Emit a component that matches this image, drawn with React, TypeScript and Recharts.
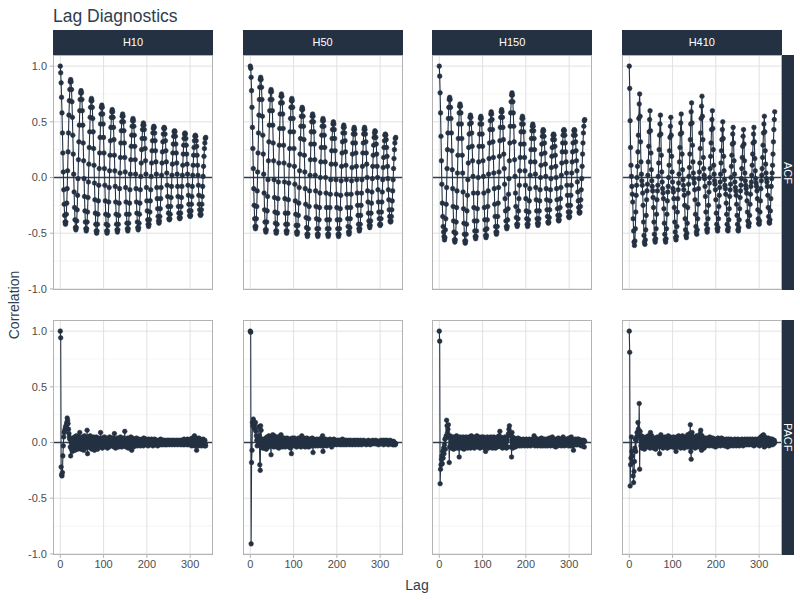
import { LineChart, Line, XAxis, YAxis, ReferenceLine } from 'recharts';

// hourly series shown in the four columns
const seriesNames = ['H10', 'H50', 'H150', 'H410'];
const rowNames = ['ACF', 'PACF'];

// correlations in hundredths, lags 0..336 (one line = one 24h cycle for ACF)
const acfH10 = [
  100, 94, 85, 72, 58, 40, 22, 5, -11, -24, -34, -40, -42, -40, -33, -23, -10, 6, 23, 40, 56, 69, 79, 86,
  88, 86, 79, 68, 54, 38, 21, 3, -13, -27, -38, -45, -47, -45, -39, -29, -16, -1, 16, 32, 47, 60, 70, 76,
  78, 76, 70, 60, 47, 31, 15, -1, -17, -30, -40, -46, -48, -46, -40, -31, -18, -4, 12, 27, 41, 54, 63, 69,
  71, 69, 63, 53, 41, 26, 11, -5, -20, -32, -42, -48, -50, -48, -42, -33, -21, -7, 8, 22, 36, 48, 57, 63,
  65, 63, 57, 48, 36, 22, 8, -7, -21, -33, -42, -48, -50, -48, -43, -34, -22, -9, 6, 20, 33, 45, 54, 59,
  61, 59, 54, 45, 34, 20, 6, -8, -22, -33, -42, -47, -49, -47, -42, -34, -23, -10, 4, 18, 31, 42, 50, 55,
  57, 55, 50, 42, 31, 18, 5, -9, -22, -33, -41, -46, -48, -46, -41, -33, -23, -11, 3, 16, 28, 38, 46, 51,
  53, 51, 46, 38, 28, 16, 3, -10, -22, -32, -40, -45, -47, -45, -41, -33, -23, -11, 1, 13, 25, 35, 43, 47,
  49, 47, 43, 35, 26, 15, 3, -9, -21, -30, -38, -42, -44, -42, -38, -31, -21, -11, 1, 13, 24, 33, 40, 44,
  46, 45, 40, 33, 24, 14, 3, -9, -19, -28, -35, -39, -41, -39, -35, -28, -19, -9, 2, 13, 23, 32, 39, 44,
  45, 44, 39, 33, 24, 14, 4, -7, -17, -26, -32, -37, -38, -37, -33, -26, -18, -8, 2, 12, 22, 30, 37, 41,
  42, 41, 37, 30, 22, 13, 3, -8, -17, -26, -32, -36, -37, -36, -32, -26, -18, -8, 2, 11, 21, 29, 35, 39,
  40, 39, 35, 29, 21, 12, 3, -7, -16, -24, -30, -34, -35, -34, -30, -24, -17, -8, 2, 11, 20, 27, 33, 37,
  38, 37, 33, 28, 20, 11, 2, -7, -16, -24, -29, -33, -34, -33, -29, -24, -17, -8, 1, 10, 19, 26, 31, 35,
  36,
];

const acfH50 = [
  100, 98, 90, 78, 63, 45, 26, 8, -10, -25, -37, -44, -46, -44, -37, -26, -12, 5, 22, 40, 56, 70, 81, 88,
  90, 88, 81, 70, 55, 38, 21, 3, -14, -29, -40, -47, -49, -47, -40, -30, -17, -2, 15, 32, 47, 60, 70, 77,
  79, 77, 70, 60, 47, 31, 15, -2, -18, -31, -41, -48, -50, -48, -42, -32, -19, -4, 13, 29, 44, 57, 67, 73,
  75, 73, 67, 57, 44, 29, 13, -4, -19, -32, -42, -48, -50, -48, -42, -32, -20, -5, 11, 26, 41, 53, 63, 69,
  71, 69, 63, 53, 41, 26, 10, -6, -21, -33, -43, -49, -51, -49, -43, -34, -23, -9, 6, 21, 35, 46, 55, 61,
  63, 61, 55, 46, 34, 20, 5, -10, -24, -36, -45, -51, -53, -51, -46, -37, -26, -12, 2, 16, 30, 41, 50, 55,
  57, 55, 50, 41, 30, 16, 2, -12, -26, -37, -46, -51, -53, -51, -46, -38, -27, -14, 0, 14, 27, 38, 46, 51,
  53, 51, 46, 38, 27, 14, 0, -14, -27, -38, -46, -51, -53, -51, -46, -38, -27, -15, -2, 12, 24, 35, 43, 48,
  50, 48, 43, 35, 24, 12, -2, -15, -27, -38, -46, -51, -53, -51, -46, -38, -28, -16, -3, 10, 22, 32, 40, 45,
  47, 45, 40, 33, 23, 11, -2, -15, -27, -37, -44, -49, -51, -49, -45, -37, -27, -15, -3, 9, 21, 31, 39, 43,
  45, 43, 39, 31, 22, 10, -2, -14, -25, -34, -42, -46, -48, -46, -42, -34, -25, -14, -2, 10, 22, 31, 39, 43,
  45, 43, 39, 32, 22, 12, 0, -12, -22, -32, -39, -43, -45, -43, -39, -32, -23, -13, -1, 10, 20, 29, 36, 40,
  42, 41, 36, 30, 21, 10, 0, -11, -22, -31, -37, -42, -43, -42, -37, -31, -22, -13, -2, 9, 18, 27, 33, 38,
  39, 38, 34, 27, 19, 10, -1, -11, -20, -29, -35, -39, -40, -39, -35, -29, -21, -12, -2, 8, 17, 25, 31, 35,
  36,
];

const acfH150 = [
  100, 91, 76, 58, 37, 15, -6, -23, -35, -44, -49, -53, -56, -54, -47, -37, -24, -9, 8, 25, 40, 53, 63, 70,
  72, 70, 63, 53, 40, 24, 7, -10, -26, -39, -49, -56, -58, -56, -50, -40, -27, -12, 4, 20, 35, 48, 58, 64,
  66, 64, 58, 48, 35, 20, 4, -13, -28, -41, -51, -57, -59, -57, -51, -42, -30, -16, -2, 13, 27, 39, 48, 54,
  56, 54, 49, 40, 28, 15, 1, -14, -27, -39, -48, -53, -55, -53, -48, -39, -28, -14, 0, 14, 28, 39, 48, 53,
  55, 53, 48, 39, 28, 15, 1, -14, -27, -38, -47, -52, -54, -52, -46, -38, -26, -12, 3, 17, 31, 43, 51, 57,
  59, 57, 52, 43, 32, 18, 4, -10, -24, -35, -44, -49, -51, -49, -44, -35, -23, -9, 5, 19, 33, 45, 54, 59,
  61, 59, 54, 45, 34, 21, 8, -6, -19, -30, -39, -44, -46, -44, -38, -28, -15, -1, 15, 31, 46, 58, 68, 74,
  76, 74, 68, 58, 46, 32, 16, 1, -14, -26, -36, -42, -44, -42, -37, -30, -19, -7, 6, 18, 30, 41, 48, 53,
  55, 53, 48, 41, 30, 18, 6, -7, -19, -30, -37, -42, -44, -42, -38, -31, -21, -10, 2, 14, 25, 35, 42, 46,
  48, 46, 42, 35, 25, 14, 3, -9, -20, -30, -37, -41, -43, -41, -37, -30, -21, -11, 0, 11, 21, 30, 37, 41,
  43, 42, 37, 31, 22, 12, 1, -10, -20, -29, -35, -40, -41, -40, -36, -29, -21, -11, -1, 9, 19, 27, 34, 38,
  39, 38, 34, 28, 20, 10, 0, -10, -20, -28, -34, -38, -39, -38, -34, -27, -19, -9, 2, 13, 23, 31, 38, 42,
  43, 42, 38, 31, 23, 14, 4, -7, -16, -25, -31, -35, -36, -35, -31, -25, -16, -7, 4, 14, 23, 31, 38, 42,
  43, 42, 38, 32, 24, 15, 6, -4, -13, -21, -27, -31, -32, -31, -26, -20, -11, -1, 10, 21, 31, 40, 46, 51,
  52,
];

const acfH410 = [
  100, 80, 51, 27, 11, 1, -8, -15, -22, -37, -48, -58, -61, -57, -46, -31, -16, -7, 0, 10, 23, 38, 53, 66,
  75, 55, 32, 14, 3, -3, -7, -14, -25, -40, -52, -58, -60, -56, -47, -34, -20, -12, -6, 2, 14, 28, 41, 52,
  60, 42, 22, 7, -3, -8, -12, -18, -27, -40, -51, -56, -58, -55, -46, -33, -20, -12, -7, 1, 13, 25, 38, 48,
  56, 39, 20, 5, -4, -10, -14, -19, -28, -41, -51, -56, -58, -55, -46, -33, -21, -13, -8, 0, 11, 24, 36, 46,
  54, 38, 19, 5, -4, -10, -13, -19, -27, -40, -49, -54, -56, -53, -44, -31, -19, -11, -5, 3, 14, 27, 39, 49,
  57, 40, 21, 7, -2, -7, -11, -16, -25, -37, -47, -52, -54, -50, -41, -27, -14, -6, 1, 9, 21, 34, 48, 59,
  67, 49, 29, 14, 4, -1, -5, -11, -20, -33, -44, -49, -51, -47, -37, -24, -10, -1, 5, 13, 26, 40, 53, 64,
  73, 55, 34, 18, 8, 2, -1, -8, -17, -31, -42, -47, -49, -46, -37, -25, -13, -5, 0, 8, 19, 31, 43, 52,
  60, 44, 25, 11, 3, -3, -6, -11, -20, -32, -42, -46, -48, -45, -37, -26, -16, -9, -4, 3, 13, 24, 34, 43,
  50, 35, 19, 6, -2, -7, -10, -15, -23, -33, -42, -47, -48, -45, -38, -28, -17, -11, -6, 0, 10, 20, 30, 39,
  45, 31, 15, 3, -4, -9, -12, -16, -24, -34, -42, -47, -48, -45, -38, -28, -18, -12, -7, -1, 8, 18, 28, 37,
  43, 30, 15, 4, -3, -7, -10, -14, -21, -31, -39, -43, -44, -41, -34, -24, -15, -8, -4, 2, 11, 21, 31, 39,
  45, 32, 17, 6, -1, -5, -8, -12, -19, -29, -37, -41, -42, -39, -31, -21, -10, -3, 2, 8, 18, 29, 40, 48,
  55, 41, 24, 12, 4, -1, -4, -8, -16, -27, -35, -40, -41, -38, -30, -19, -8, -1, 4, 11, 21, 32, 43, 52,
  59,
];

const pacfH10 = [
  100, 94, -22, -29, -30, -27, -12, -3, 5, 9,
  10, 12, 14, 13, 16, 18, 22, 20, 17, 12,
  8, 5, 3, -4, -12, 0, -6, 3, -8, 2,
  -5, 4, -3, 5, -7, 1, -4, 6, -2, 3,
  -6, 2, 5, -3, 4, 9, -5, 1, -6, 3,
  -2, 5, -4, 2, -7, 3, 6, -1, -5, 2,
  4, -3, 11, -10, 2, 5, -4, 3, -2, 6,
  -5, 1, 4, -6, 3, -2, 5, -3, 2, -7,
  4, 1, -3, 5, -2, 3, -6, 2, 4, -1,
  -4, 3, -2, 9, -3, 1, 4, -5, 2, -2,
  3, -4, 5, -1, 2, -3, 4, -2, 1, -5,
  3, 2, -4, 1, 5, -2, -3, 4, -1, 2,
  -3, 4, -2, 1, -4, 8, -1, 3, -5, 2,
  1, -3, 4, -2, 3, -4, 2, 1, -3, 5,
  -2, 3, -4, 1, 2, -3, 4, -1, -2, 10,
  -3, 2, -4, 3, 1, -2, 4, -5, 2, -1,
  3, -4, 2, 5, -3, -7, 4, -2, 3, -4,
  2, -1, 3, -3, 2, -2, 4, -1, -3, 2,
  1, -2, 3, -1, 2, -3, 1, 2, -2, 3,
  -1, 2, -3, 4, -1, 2, -2, 1, 3, -2,
  1, -1, 2, -3, 3, -1, 1, -2, 2, 0,
  -2, 3, -1, 2, -3, 1, 2, -1, 3, -2,
  1, -2, 2, -1, 1, -3, 2, 0, -1, 2,
  -2, 1, 3, -1, -2, 2, -1, 1, -2, 2,
  0, -1, 2, -2, 1, 1, -2, 2, -1, 0,
  2, -1, -2, 1, 2, -1, 0, 1, -2, 2,
  -1, 1, -1, 2, -2, 1, 0, -1, 2, -1,
  1, -2, 2, -1, 1, 0, -1, 2, -2, 1,
  2, -1, 1, -2, 2, -1, 3, -2, 1, -1,
  2, -1, 1, -2, 3, -1, 2, -2, 1, 2,
  -2, 3, -1, 2, -3, 4, -2, 1, 3, -2,
  6, -3, 2, 4, -2, -7, 3, -1, 2, -3,
  4, -2, 1, 3, -2, 2, -3, 1, 2, -1,
  3, -2, 1, -3, 2, -1, -3,
];

const pacfH50 = [
  100, 99, -91, -18, -7, 18, 15, 21, 19, 13,
  16, 12, 18, 10, 6, 2, -3, 4, 1, -2,
  14, 6, -20, -25, 15, 11, -4, -1, 3, -5,
  -4, 2, -5, 3, 1, -3, 4, -6, 2, 5,
  -2, 3, -4, 6, 2, -1, 5, -3, -11, 4,
  3, -2, 7, 4, -4, 6, 2, -3, 5, -1,
  3, -4, 2, 5, -2, 1, -5, 3, 4, -2,
  6, 7, -3, 2, -4, 3, 1, -2, 4, -3,
  2, -4, 3, 1, -2, 4, -3, 2, -1, 3,
  -4, 2, 3, -5, 1, -10, 2, 4, -3, 1,
  3, -2, 4, -1, -3, 2, 1, -4, 3, -2,
  2, -3, 4, -1, 2, -2, 3, -4, 1, 6,
  -2, 3, 1, -3, 4, -1, 2, -4, 1, 3,
  -2, 4, -3, 1, 2, -4, 3, -1, 2, -2,
  3, -3, 1, 4, -2, -9, 2, 3, -1, 2,
  -3, 1, 2, -2, 3, -1, -3, 2, 1, -2,
  3, -1, 2, -3, 1, 4, -2, 6, -8, 2,
  -3, 1, 2, -2, 3, -1, 1, -3, 2, -1,
  2, -1, 1, -2, 3, -1, 2, -2, -4, 1,
  2, -1, 1, 3, -2, 1, -1, 2, -1, 1,
  -2, 2, -1, 1, 2, -1, 1, -2, 2, 0,
  -1, 2, -2, 3, -1, 1, 0, -2, 2, -1,
  1, -1, 2, -2, 1, 0, -1, 2, -1, 1,
  -2, 1, 2, -1, 0, 1, -2, 1, -1, 2,
  -1, 1, 0, -2, 2, -1, 1, 0, -1, 2,
  -2, 1, 1, -1, 0, 2, -1, -2, 1, 0,
  1, -1, 2, -1, 0, 1, -1, 1, -2, 1,
  0, 1, -1, 2, -1, 0, 1, -2, 1, -1,
  1, 0, -1, 2, -1, 1, 0, -1, 1, -1,
  2, -1, 0, 1, -1, 1, -2, 1, 0, -1,
  1, -1, 2, -1, 0, 1, -1, 2, -2, 1,
  0, -1, 2, 1, -1, 0, 2, -1, 1, -2,
  1, 0, -1, 2, -1, 1, -1, 0, 1, -2,
  -1, 1, -2, 0, -1, -2, -1,
];

const pacfH150 = [
  100, 91, -37, -24, -20, -15, -12, -19, -8, -14,
  -5, -10, -2, 3, -6, 4, 6, 20, 15, 9,
  12, 16, 5, -18, -4, 6, -3, 4, -5, 2,
  5, -4, 3, -6, 2, 5, -3, 4, -5, 3,
  6, -4, 2, -5, 4, -2, -13, 3, 5, -4,
  2, -5, 4, 3, -3, 5, -2, -6, 3, 4,
  -4, 2, 5, -3, 4, -5, 1, 3, -4, 5,
  -2, 4, -5, 3, 6, -3, 2, -4, 5, -1,
  3, -5, 4, -2, 5, -3, 1, 6, -4, 2,
  -3, 5, -2, 4, -5, 3, 1, -4, 5, -3,
  2, -4, 5, -2, 3, -5, 4, -8, 2, 3,
  -4, 5, -2, 3, -5, 4, -1, 2, -4, 5,
  -3, 2, 4, -5, 3, -2, 5, -4, 1, 3,
  -5, 4, -2, 3, -4, 5, -1, -3, 6, 4,
  10, -3, 5, -4, 2, 3, -5, 4, -2, 3,
  -4, 2, 5, -3, 4, -5, 3, 2, -4, 6,
  8, 12, 15, 9, 7, -4, 6, -13, 9, 5,
  -5, 3, -3, 4, -2, 1, -4, 3, 2, -3,
  2, -2, 4, -1, 2, -3, 1, 3, -2, 1,
  -3, 2, 1, -2, 3, -1, 2, -3, 1, 2,
  -1, 3, -2, 1, -3, 2, 1, -2, 3, -1,
  2, -3, 1, 2, -2, 3, -1, 1, -2, 6,
  2, -3, 4, -1, 2, -2, 3, -3, 1, 2,
  -2, 3, -1, 2, -3, 1, 4, -2, 1, -3,
  2, -2, 3, -1, 2, -3, 1, 3, -2, 1,
  -3, 2, 1, -2, 4, -1, 2, -3, 1, 2,
  -2, 5, -1, 2, -3, 1, 3, -2, 2, -4,
  1, 3, -2, 2, -3, 4, -1, 1, -2, 3,
  -1, 2, -3, 1, 2, -2, 5, -1, 2, -3,
  1, 3, -2, 2, -1, 3, -2, 1, -3, 2,
  4, -2, 1, -3, 2, 5, -1, 2, -3, 1,
  -7, 2, 1, -2, 3, -1, 2, -2, 1, 3,
  -2, 1, 3, -1, 2, -2, 1, 2, -3, 1,
  2, -1, -3, 1, 2, -4, 1,
];

const pacfH410 = [
  100, 81, -39, -20, -14, 5, -8, -12, -18, -30,
  -36, -26, -17, -5, 3, -8, 2, 5, 9, 6,
  18, 12, 8, 35, -24, 10, 4, -3, 6, -5,
  3, -4, 5, -2, 4, -6, 2, 3, -3, 5,
  -2, 4, -4, 3, 6, -3, 2, 5, -5, 9,
  3, -4, 6, 2, -3, 4, -5, 3, 1, -2,
  4, -6, 3, 2, -4, 5, -2, 3, -3, 4,
  -10, 5, -3, 7, 2, -4, 3, 1, -5, 4,
  2, -3, 5, -2, 3, -4, 1, 4, -5, 2,
  6, -3, 2, -4, 5, 1, -3, 4, -2, 3,
  -4, 2, 5, -3, 1, 4, -5, 2, -8, 3,
  5, -2, 3, -4, 6, 2, -3, 1, 4, -5,
  3, 2, -4, 6, -2, 1, 3, -5, 4, 2,
  -3, 5, -1, 2, -4, 7, -2, 3, 5, -4,
  8, 16, -8, -15, 6, 9, -4, 3, -3, 5,
  -2, 4, -5, 3, 1, -3, 6, 2, -4, 3,
  -2, 5, 3, -4, 8, 11, 4, -7, 6, 2,
  -3, 4, 2, -5, 3, -2, 4, 1, -3, 2,
  3, -2, 4, -1, 2, -3, 5, 1, -2, 3,
  -1, 2, -3, 4, 1, -2, 3, -1, 2, -4,
  2, 3, -2, 1, -3, 4, 2, -1, 3, -2,
  1, -3, 2, 4, -1, 2, -2, 3, -1, 1,
  -3, 2, 1, -2, 3, -1, 2, -4, 1, 3,
  -2, 1, 2, -3, 1, 3, -1, 2, -2, 1,
  -3, 2, 1, -1, 3, -2, 1, -3, 2, 1,
  -2, 3, -1, 1, -3, 2, -1, 2, -2, 1,
  3, -1, 2, -3, 1, -2, 2, 3, -1, 1,
  -2, 2, -1, 3, -2, 1, -1, 2, -2, 3,
  1, -1, 2, -2, 1, 3, -1, 2, -3, 1,
  2, -2, 3, 1, -1, 2, -2, 1, 3, -1,
  2, -3, 4, 1, 5, 3, -2, 6, 2, 4,
  7, 3, -4, 5, -3, 2, 4, -2, 3, 1,
  -2, 4, 2, -3, 3, 1, -2, 3, 2, -1,
  3, -2, 2, 1, -1, 2, 0,
];

const acfRows = [acfH10, acfH50, acfH150, acfH410];
const pacfRows = [pacfH10, pacfH50, pacfH150, pacfH410];

const xTicks = [0, 100, 200, 300];
const yTicks = [-1, -0.5, 0, 0.5, 1];
const yMinor = [-0.75, -0.25, 0.25, 0.75];

const INK = '#243142';
const PANEL_W = 160;
const PANEL_H = 235;
const COL_LEFT = [53, 242.6, 432.2, 621.8];
const ROW_TOP = [55, 320];
const Y_AXIS_W = 46;
const X_AXIS_H = 24;
const PAD = 8; // room below the top row so the -1.0 label is not clipped

const toPoints = (vals: number[]) => vals.map((v, lag) => ({ lag, value: v / 100 }));

function Panel({ values, col, row }: { values: number[]; col: number; row: number }) {
  const showY = col === 0;
  const showX = row === 1;
  const yW = showY ? Y_AXIS_W : 0;
  const xH = showX ? X_AXIS_H : 0;
  const pad = showX ? 0 : PAD;
  const data = toPoints(values);

  return (
    <div style={{ position: 'absolute', left: COL_LEFT[col] - yW, top: ROW_TOP[row] }}>
      <LineChart
        width={PANEL_W + yW}
        height={PANEL_H + xH + pad}
        data={data}
        margin={{ top: 0, right: 0, bottom: pad, left: 0 }}
      >
        <XAxis
          dataKey="lag"
          type="number"
          domain={[-16.8, 352.8]}
          ticks={xTicks}
          interval={0}
          hide={!showX}
          height={xH}
          axisLine={false}
          tickSize={3}
          tickMargin={2}
          tickLine={{ stroke: '#b3b3b3' }}
          tick={{ fontSize: 11, fill: '#4d4d4d' }}
          allowDataOverflow
        />
        <YAxis
          type="number"
          domain={[-1.01, 1.1]}
          ticks={yTicks}
          interval={0}
          hide={!showY}
          width={yW}
          axisLine={false}
          tickSize={3}
          tickMargin={3}
          tickLine={{ stroke: '#b3b3b3' }}
          tick={{ fontSize: 11, fill: '#4d4d4d' }}
          tickFormatter={(v: number) => v.toFixed(1)}
          allowDataOverflow
        />
        {yMinor.map((y) => (
          <ReferenceLine key={`mn${y}`} y={y} stroke="#efefef" strokeWidth={0.6} />
        ))}
        {yTicks.map((y) => (
          <ReferenceLine key={`mj${y}`} y={y} stroke="#dedede" strokeWidth={0.9} />
        ))}
        {xTicks.map((x) => (
          <ReferenceLine key={`vx${x}`} x={x} stroke="#dedede" strokeWidth={0.9} />
        ))}
        <ReferenceLine y={0} stroke="#2c3e50" strokeWidth={1.3} />
        <Line
          dataKey="value"
          type="linear"
          stroke={INK}
          strokeWidth={1.1}
          dot={{ r: 2.3, fill: INK, stroke: INK, strokeWidth: 0.6 }}
          isAnimationActive={false}
        />
      </LineChart>
      <div
        style={{
          position: 'absolute',
          left: yW,
          top: 0,
          width: PANEL_W,
          height: PANEL_H,
          border: '1px solid #b3b3b3',
          boxSizing: 'border-box',
          pointerEvents: 'none',
        }}
      />
    </div>
  );
}

export default function App() {
  return (
    <div
      style={{
        position: 'absolute',
        left: 0,
        top: 0,
        width: 800,
        height: 600,
        background: '#ffffff',
        fontFamily: '"Liberation Sans", Arial, sans-serif',
      }}
    >
      <div style={{ position: 'absolute', left: 53, top: 5, fontSize: 17.5, lineHeight: '22px', color: '#2c3e50' }}>
        Lag Diagnostics
      </div>

      {seriesNames.map((name, c) => (
        <div
          key={name}
          style={{
            position: 'absolute',
            left: COL_LEFT[c],
            top: 30,
            width: PANEL_W,
            height: 25,
            background: INK,
            color: '#ffffff',
            fontSize: 11,
            lineHeight: '25px',
            textAlign: 'center',
          }}
        >
          {name}
        </div>
      ))}

      {rowNames.map((name, r) => (
        <div
          key={name}
          style={{
            position: 'absolute',
            left: COL_LEFT[3] + PANEL_W,
            top: ROW_TOP[r],
            width: 12,
            height: PANEL_H,
            background: INK,
            color: '#ffffff',
            fontSize: 11,
            writingMode: 'vertical-rl',
            textAlign: 'center',
            lineHeight: '12px',
          }}
        >
          {name}
        </div>
      ))}

      {acfRows.map((vals, c) => (
        <Panel key={`acf${c}`} values={vals} col={c} row={0} />
      ))}
      {pacfRows.map((vals, c) => (
        <Panel key={`pacf${c}`} values={vals} col={c} row={1} />
      ))}

      <div
        style={{
          position: 'absolute',
          left: 14 - 60,
          top: 305 - 9,
          width: 120,
          height: 18,
          transform: 'rotate(-90deg)',
          textAlign: 'center',
          fontSize: 14,
          lineHeight: '18px',
          color: '#2c3e50',
        }}
      >
        Correlation
      </div>
      <div
        style={{
          position: 'absolute',
          left: 417 - 40,
          top: 576,
          width: 80,
          textAlign: 'center',
          fontSize: 14,
          lineHeight: '18px',
          color: '#2c3e50',
        }}
      >
        Lag
      </div>
    </div>
  );
}
